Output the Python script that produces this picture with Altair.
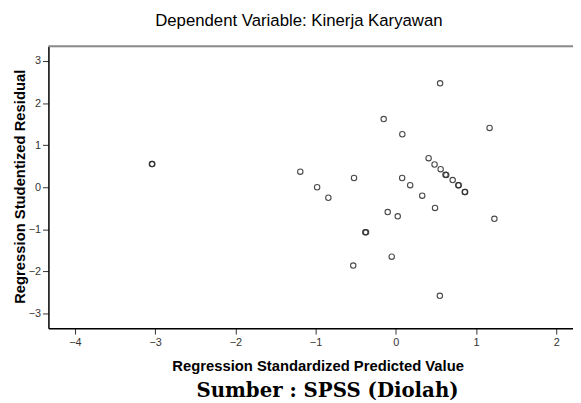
import altair as alt
import pandas as pd

pred = [0.553, -0.15, 0.082, 1.17, 0.41, 0.484, 0.56, 0.62, 0.63, 0.71, 0.78, 0.785,
        0.86, 0.865, -1.19, -0.98, -0.84, -0.52, 0.08, 0.18, 0.33, 0.49, -0.10, 0.025,
        1.23, -0.38, -0.37, -0.05, -0.53, 0.55, -3.04, -3.035]
resid = [2.47, 1.62, 1.26, 1.41, 0.69, 0.54, 0.43, 0.30, 0.29, 0.17, 0.05, 0.045,
         -0.11, -0.115, 0.37, 0.0, -0.25, 0.22, 0.22, 0.05, -0.20, -0.49, -0.59, -0.69,
         -0.75, -1.07, -1.07, -1.65, -1.86, -2.58, 0.55, 0.55]

x_ticks = [-4, -3, -2, -1, 0, 1, 2]
y_ticks = [-3, -2, -1, 0, 1, 2, 3]

df = pd.DataFrame({"pred": pred, "resid": resid})

W, H = 532, 286

points = alt.Chart(df).mark_point(
    shape="circle", filled=False, size=30, strokeWidth=1.1, color="#2b2b2b", opacity=0.85
).encode(
    x=alt.X("pred:Q", scale=alt.Scale(domain=[-4.33, 2.21], nice=False, zero=False),
            axis=alt.Axis(values=x_ticks, format="d", title="Regression Standardized Predicted Value",
                          grid=False, domainColor="#000000", domainWidth=1.5,
                          tickColor="#333333", tickSize=6, labelFontSize=11,
                          labelColor="#333333", labelPadding=2,
                          titleFont="Liberation Sans", titleFontWeight="bold", titleFontSize=15,
                          titleColor="#000000", titlePadding=12, titleX=273)),
    y=alt.Y("resid:Q", scale=alt.Scale(domain=[-3.35, 3.35], nice=False, zero=False),
            axis=alt.Axis(values=y_ticks, format="d", title="Regression Studentized Residual",
                          grid=False, domainColor="#000000", domainWidth=1.5,
                          tickColor="#333333", tickSize=6, labelFontSize=11,
                          labelColor="#333333", labelPadding=2,
                          titleFont="Liberation Sans", titleFontWeight="bold", titleFontSize=15,
                          titleColor="#000000", titleX=-29, titleY=142, titleBaseline="middle")),
)

top_line = alt.Chart(pd.DataFrame({"a": [0]})).mark_rule(color="#8a8a8a", strokeWidth=2).encode(
    x=alt.value(0), x2=alt.value(W), y=alt.value(0)
)

caption = alt.Chart(pd.DataFrame({"t": ["Sumber : SPSS (Diolah)"]})).mark_text(
    font="DejaVu Serif", fontWeight="bold", fontSize=20, color="#000000",
    align="center", baseline="middle"
).encode(x=alt.value(283), y=alt.value(350), text="t:N")

chart = alt.layer(top_line, points, caption).properties(
    width=W, height=H,
    title=alt.TitleParams("Dependent Variable: Kinerja Karyawan", font="Liberation Sans",
                          fontSize=17, fontWeight="normal", color="#000000",
                          anchor="middle", dx=-12, offset=16),
    autosize=alt.AutoSizeParams(type="none"),
    padding={"left": 41, "top": 36, "right": 0, "bottom": 73},
).configure_view(
    fill="#f0f0f0", stroke=None
).configure(background="#ffffff", font="Liberation Sans")

chart.save("out.html", embed_options={"renderer": "svg", "actions": False})
